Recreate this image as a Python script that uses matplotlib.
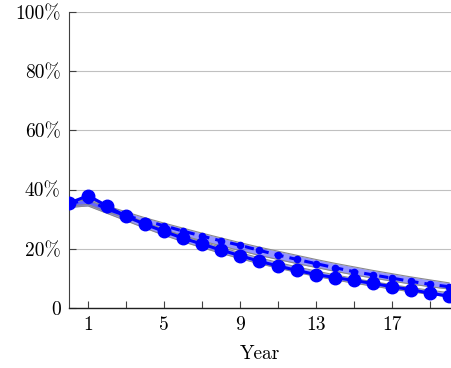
import matplotlib
matplotlib.use("Agg")
import matplotlib.pyplot as plt
from matplotlib.ticker import FixedLocator, FuncFormatter

# Data (percent)
years = list(range(0, 21))
solid = [35.4, 38.0, 34.5, 31.0, 28.3, 25.9, 23.6, 21.6, 19.6, 17.7, 15.8,
         14.2, 12.7, 11.3, 10.3, 9.3, 8.3, 7.2, 6.2, 5.0, 4.0]
dashed = [35.4, 36.5, 33.5, 31.2, 29.5, 27.8, 26.0, 24.3, 22.7, 21.2, 19.5,
          17.9, 16.4, 15.0, 13.6, 12.3, 11.2, 10.1, 9.0, 8.0, 7.2]
solid_lo = [34.0, 34.5, 32.0, 29.5, 27.0, 24.6, 22.4, 20.4, 18.5, 16.7, 15.0,
            13.5, 12.0, 10.7, 9.5, 8.4, 7.4, 6.4, 5.5, 4.6, 3.8]
solid_hi = [36.0, 36.5, 34.0, 31.5, 29.0, 26.6, 24.4, 22.4, 20.5, 18.7, 17.0,
            15.4, 13.9, 12.5, 11.2, 10.0, 8.9, 7.9, 6.9, 6.0, 5.2]
dashed_lo = [34.5, 35.0, 32.5, 30.3, 28.3, 26.3, 24.5, 22.7, 21.0, 19.4, 17.8,
             16.4, 15.0, 13.7, 12.4, 11.2, 10.1, 9.1, 8.1, 7.2, 6.4]
dashed_hi = [36.5, 37.0, 34.5, 32.5, 30.5, 28.7, 27.0, 25.3, 23.7, 22.1, 20.6,
             19.2, 17.8, 16.4, 15.1, 13.9, 12.7, 11.6, 10.5, 9.5, 8.5]

y_ticks = [0, 20, 40, 60, 80, 100]
x_ticks = [1, 3, 5, 7, 9, 11, 13, 15, 17, 19]
x_labels = {1: "1", 5: "5", 9: "9", 13: "13", 17: "17"}

plt.rcParams['font.family'] = ['cmr10', 'DejaVu Serif']
plt.rcParams['axes.formatter.use_mathtext'] = True

fig = plt.figure(figsize=(4.51, 3.68), dpi=100)
ax = fig.add_axes([0.153, 0.163, 0.847, 0.804])

# confidence bands
for lo, hi in [(solid_lo, solid_hi), (dashed_lo, dashed_hi)]:
    ax.fill_between(years, lo, hi, color='#4040ff', alpha=0.55, lw=0, zorder=2)
    ax.plot(years, lo, color='#8a8a8a', lw=0.8, zorder=2.5)
    ax.plot(years, hi, color='#8a8a8a', lw=0.8, zorder=2.5)

ax.plot(years, dashed, color='blue', lw=2.2, ls=(0, (3, 2)),
        marker='o', ms=4.5, zorder=3)
ax.plot(years, solid, color='blue', lw=2.2, ls='-',
        marker='o', ms=9, zorder=4)

ax.set_xlim(0, 20.1)
ax.set_ylim(0, 100)

ax.yaxis.set_major_locator(FixedLocator(y_ticks))
ax.yaxis.set_major_formatter(FuncFormatter(lambda v, p: "0" if v == 0 else "%d%%" % v))
ax.xaxis.set_major_locator(FixedLocator(x_ticks))
ax.xaxis.set_major_formatter(FuncFormatter(lambda v, p: x_labels.get(int(round(v)), "")))

ax.grid(axis='y', color='#c0c0c0', lw=0.8)
ax.set_axisbelow(True)
ax.tick_params(direction='in', length=5, width=0.8, color='#404040', labelsize=14, pad=6)
for s in ['top', 'right']:
    ax.spines[s].set_visible(False)
ax.spines['left'].set_color('#404040')
ax.spines['bottom'].set_color('#202020')
ax.spines['bottom'].set_linewidth(1.0)

ax.set_xlabel("Year", fontsize=14, labelpad=8)

fig.savefig("out.png", dpi=100)
